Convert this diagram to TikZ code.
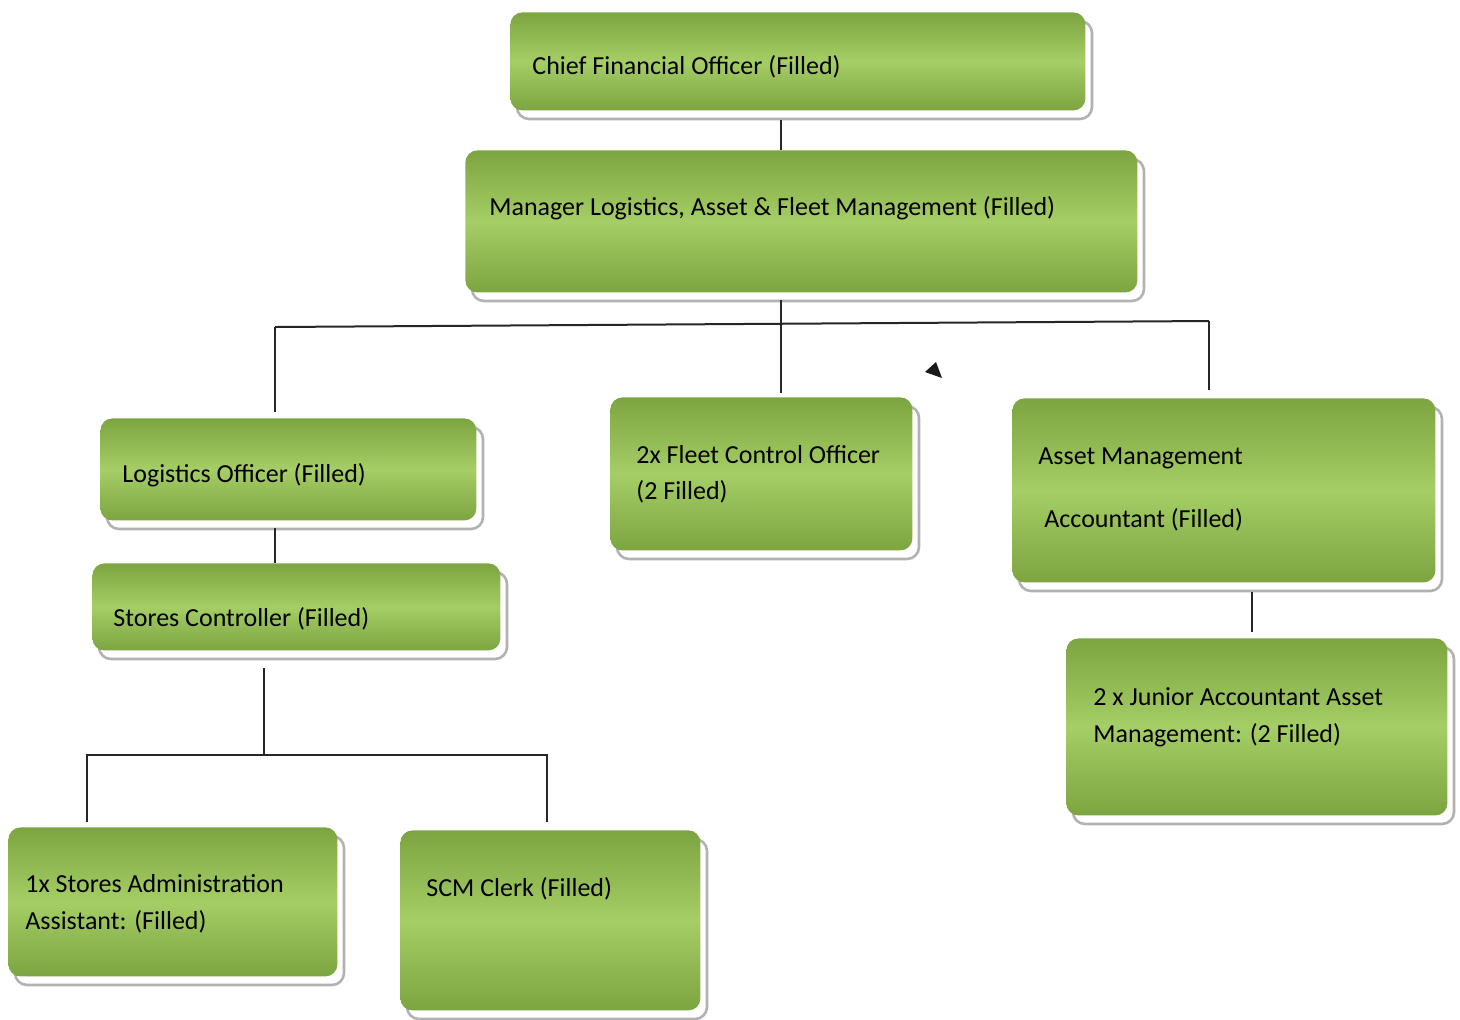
\documentclass[tikz,border=0pt]{standalone}
\usepackage{fontspec}
\setmainfont{Carlito}
\begin{document}
\begin{tikzpicture}[x=0.5pt,y=-0.5pt,
  box/.style={rectangle, rounded corners=6pt, top color=gBot, bottom color=gBot, middle color=gMid, draw=none, anchor=north west, inner sep=0pt},
  shad/.style={rounded corners=6pt, fill=white, draw=black!30, line width=1.3pt},
  lbl/.style={anchor=base west, inner sep=0pt, font=\fontsize{13}{15}\selectfont, text=black},
  conn/.style={line width=1pt, draw=black!85}]
\definecolor{gMid}{RGB}{166,206,102}
\definecolor{gBot}{RGB}{124,164,64}
\useasboundingbox (0,0) rectangle (1460,1019);
\newcommand{\orgbox}[5]{% name, x, y, w, h
  \draw[shad] (#2+7,#3+9) rectangle ++(#4,#5);
  \node[box, minimum width=#4*0.5pt, minimum height=#5*0.5pt] (#1) at (#2,#3) {};
}
\orgbox{cfo}{510}{12}{575}{98}
\orgbox{mgr}{465}{150}{672}{142}
\orgbox{log}{100}{418}{376}{102}
\orgbox{fleet}{610}{397}{302}{153}
\orgbox{asset}{1012}{398}{423}{184}
\orgbox{stc}{92}{563}{408}{87}
\orgbox{jun}{1066}{638}{381}{177}
\orgbox{sadm}{8}{827}{329}{149}
\orgbox{scm}{400}{830}{300}{180}

\node[lbl] (tcfo) at (532,74) {Chief Financial Officer (Filled)};
\node[lbl] (tmgr) at (489,215) {Manager Logistics, Asset \& Fleet Management (Filled)};
\node[lbl] (tlog) at (122,482) {Logistics Officer (Filled)};
\node[lbl] (tfl1) at (636,463) {2x Fleet Control Officer};
\node[lbl] (tfl2) at (636,499) {(2 Filled)};
\node[lbl] (tas1) at (1038,464) {Asset Management};
\node[lbl] (tas2) at (1044,527) {Accountant (Filled)};
\node[lbl] (tstc) at (113,626) {Stores Controller (Filled)};
\node[lbl] (tjn1) at (1093,705) {2 x Junior Accountant Asset};
\node[lbl] (tjn2) at (1093,742) {Management: (2 Filled)};
\node[lbl] (tsa1) at (25,892) {1x Stores Administration};
\node[lbl] (tsa2) at (25,929) {Assistant: (Filled)};
\node[lbl] (tscm) at (426,896) {SCM Clerk (Filled)};

% connectors
\coordinate (busL) at (275,327);
\coordinate (busR) at (1209,321);
\draw[conn] (781,120) -- (781,150);
\draw[conn] (781,300) -- (781,393);
\draw[conn] (busL) -- (busR);
\draw[conn] (busL) -- (275,412);
\draw[conn] (busR) -- (1209,390);
\draw[conn] (275,528) -- (275,563);
\coordinate (sb) at (264,755);
\draw[conn] (264,668) -- (sb);
\draw[conn] (87,822) -- (87,755) -- (547,755) -- (547,822);
\draw[conn] (1252,592) -- (1252,632);
\fill[black!90] (925,372) -- (936,362) -- (942,378) -- cycle;
\end{tikzpicture}
\end{document}
